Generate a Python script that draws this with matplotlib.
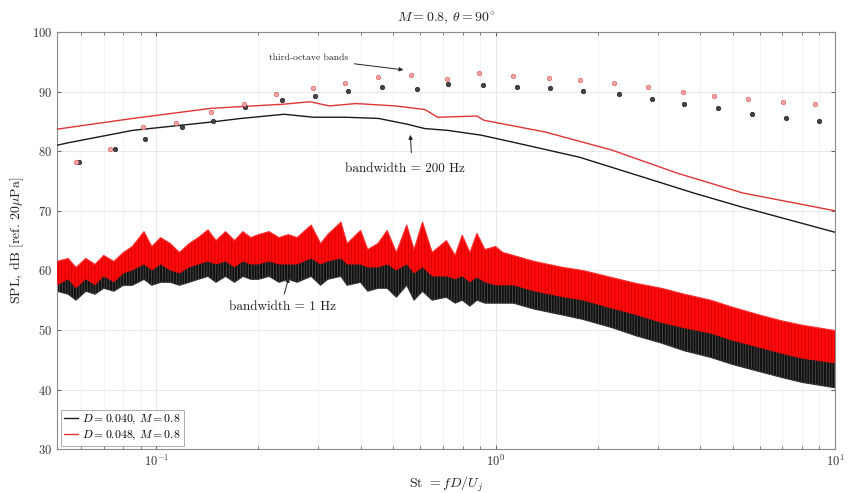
import numpy as np
import matplotlib
matplotlib.use("Agg")
import matplotlib.pyplot as plt

plt.rcParams['font.family'] = 'serif'
plt.rcParams['font.serif'] = ['cmr10', 'DejaVu Serif']
plt.rcParams['mathtext.fontset'] = 'cm'
plt.rcParams['axes.formatter.use_mathtext'] = True
plt.rcParams['hatch.linewidth'] = 0.5

# third-octave band levels
to_st_040 = [0.0593, 0.0753, 0.0929, 0.1190, 0.1473, 0.1824, 0.2350, 0.2929, 0.3674,
             0.4611, 0.5862, 0.7259, 0.9169, 1.158, 1.443, 1.811, 2.303, 2.890,
             3.602, 4.520, 5.708, 7.162, 8.988]
to_spl_040 = [78.2, 80.3, 82.0, 84.0, 85.0, 87.4, 88.6, 89.2, 90.1, 90.8, 90.4, 91.3,
              91.1, 90.8, 90.6, 90.1, 89.6, 88.7, 87.9, 87.2, 86.2, 85.5, 85.0]
to_st_048 = [0.0578, 0.0731, 0.0911, 0.1143, 0.1453, 0.1811, 0.2258, 0.2890, 0.3601,
             0.4490, 0.5632, 0.7211, 0.8928, 1.128, 1.434, 1.775, 2.227, 2.813,
             3.554, 4.401, 5.558, 7.020, 8.751]
to_spl_048 = [78.2, 80.3, 84.0, 84.7, 86.5, 87.9, 89.6, 90.6, 91.4, 92.4, 92.8, 92.1,
              93.1, 92.6, 92.3, 91.9, 91.4, 90.8, 89.9, 89.2, 88.7, 88.3, 88.0]

# 200 Hz bandwidth spectra
bw200_st_040 = [0.051, 0.0548, 0.0852, 0.1453, 0.1776, 0.238, 0.2909, 0.3625, 0.4518,
                0.552, 0.5785, 0.6184, 0.7211, 0.905, 1.128, 1.764, 2.739, 3.825, 5.34, 10.0]
bw200_spl_040 = [81.0, 81.4, 83.5, 84.9, 85.5, 86.2, 85.7, 85.7, 85.5, 84.5, 84.2, 83.8,
                 83.5, 82.7, 81.5, 79.0, 75.6, 73.0, 70.6, 66.4]
bw200_st_048 = [0.051, 0.0852, 0.1453, 0.238, 0.2833, 0.3237, 0.3877, 0.5063, 0.6184,
                0.6745, 0.881, 0.923, 1.405, 2.198, 3.438, 5.34, 10.0]
bw200_spl_048 = [83.7, 85.5, 87.2, 87.9, 88.3, 87.6, 88.0, 87.6, 87.0, 85.7, 85.9, 85.2,
                 83.2, 80.2, 76.3, 73.0, 70.0]

# 1 Hz bandwidth spectra, upper / lower extent of the narrowband trace
bw1_st = [0.051, 0.055, 0.058, 0.062, 0.066, 0.070, 0.075, 0.080, 0.085, 0.092, 0.097,
          0.103, 0.110, 0.117, 0.125, 0.133, 0.142, 0.150, 0.160, 0.170, 0.180, 0.190,
          0.200, 0.215, 0.230, 0.245, 0.260, 0.286, 0.305, 0.320, 0.350, 0.365, 0.400,
          0.420, 0.450, 0.479, 0.510, 0.547, 0.575, 0.609, 0.650, 0.716, 0.760, 0.797,
          0.840, 0.881, 0.930, 1.00, 1.05, 1.128, 1.3, 1.577, 1.8, 2.2, 2.6, 3.08, 3.6,
          4.3, 5.0, 6.0, 7.0, 8.0, 10.0]
bw1_hi_048 = [61.5, 62.0, 60.5, 62.0, 61.0, 62.5, 61.5, 63.0, 64.0, 66.5, 64.0,
              65.5, 64.5, 63.0, 64.5, 65.5, 66.8, 65.0, 66.5, 65.0, 66.5, 65.5,
              66.0, 66.5, 65.5, 66.0, 65.5, 67.6, 64.5, 66.0, 68.1, 64.5, 66.7,
              63.5, 64.5, 66.7, 63.0, 67.6, 63.5, 68.1, 63.0, 65.0, 62.5, 65.9,
              63.0, 66.2, 63.5, 64.0, 63.0, 62.5, 61.5, 60.5, 60.0, 58.8, 57.8, 57.0, 56.0,
              55.0, 53.8, 52.5, 51.5, 50.8, 49.9]
bw1_lo_048 = [57.5, 58.5, 57.0, 58.5, 57.5, 59.0, 58.0, 59.5, 60.0, 61.0, 60.0,
              61.0, 60.0, 59.5, 60.5, 61.0, 61.5, 61.0, 61.5, 60.5, 61.5, 61.0,
              61.0, 61.5, 61.0, 61.0, 61.0, 62.0, 61.0, 61.5, 62.0, 61.0, 61.0,
              60.5, 60.5, 61.0, 60.0, 61.0, 59.5, 60.5, 59.0, 59.0, 58.5, 59.0,
              58.0, 58.8, 58.0, 57.5, 57.5, 57.5, 56.5, 55.5, 55.0, 53.6, 52.5, 51.2, 50.3,
              49.4, 48.2, 47.0, 46.0, 45.2, 44.4]
bw1_hi_040 = [59.5, 60.0, 58.5, 60.0, 59.5, 60.5, 59.5, 61.0, 61.5, 63.0, 61.5,
              62.5, 62.0, 61.0, 62.0, 63.0, 63.5, 62.5, 63.5, 62.5, 63.5, 62.5,
              63.0, 63.5, 63.0, 63.5, 63.0, 65.0, 62.0, 63.5, 65.0, 62.0, 64.0,
              61.0, 62.0, 64.0, 60.5, 64.5, 60.5, 65.0, 60.0, 62.5, 60.0, 63.0,
              60.0, 63.0, 60.5, 61.0, 60.0, 59.5, 58.5, 57.5, 57.0, 55.5, 54.5, 53.5, 52.5,
              51.5, 50.5, 49.0, 48.0, 47.0, 46.0]
bw1_lo_040 = [56.5, 56.0, 55.0, 56.5, 56.0, 57.0, 56.5, 57.5, 57.5, 58.5, 57.5,
              58.0, 58.0, 57.5, 58.0, 58.5, 59.0, 58.0, 59.0, 58.0, 59.0, 58.5,
              58.5, 59.0, 58.0, 58.5, 58.0, 59.0, 57.5, 58.5, 59.0, 57.5, 58.0,
              56.5, 57.0, 57.0, 55.5, 57.5, 55.0, 56.5, 55.0, 55.5, 54.5, 55.0,
              54.0, 55.0, 54.5, 54.5, 54.5, 54.5, 53.5, 52.5, 51.8, 50.4, 49.0, 47.8, 46.5,
              45.4, 44.2, 43.0, 42.0, 41.2, 40.3]

fig = plt.figure(figsize=(8.52, 4.93), dpi=100)
ax = fig.add_axes([0.067, 0.089, 0.913, 0.846])

# narrowband traces, streaked so they read as dense spectra
ax.fill_between(bw1_st, bw1_lo_040, bw1_hi_040, facecolor='#111111', edgecolor='#555555',
                hatch='||||||', lw=0.0, zorder=2)
ax.fill_between(bw1_st, bw1_lo_048, bw1_hi_048, facecolor='#ff0a0a', edgecolor='#c80000',
                hatch='|||||', lw=0.0, zorder=3)
ax.plot(bw1_st, bw1_hi_048, color='#ff3030', lw=0.8, zorder=3)
ax.plot(bw1_st, bw1_lo_040, color='#333333', lw=0.8, zorder=2)

# 200 Hz bands
ax.plot(bw200_st_040, bw200_spl_040, color='#1a1a1a', lw=1.0, zorder=4,
        label=r'$D = 0.040$, $M = 0.8$')
ax.plot(bw200_st_048, bw200_spl_048, color='#e03535', lw=1.0, zorder=4,
        label=r'$D = 0.048$, $M = 0.8$')

# third-octave markers
ax.plot(to_st_040, to_spl_040, 'o', ms=3.2, mfc='#444444', mec='#222222', mew=0.5, zorder=5)
ax.plot(to_st_048, to_spl_048, 'o', ms=3.2, mfc='#f4a8a8', mec='#e06060', mew=0.5, zorder=5)

ax.set_xscale('log')
ax.set_xlim(0.051, 10)
ax.set_ylim(30, 100)
ax.set_yticks(np.arange(30, 101, 10))
ax.grid(True, which='major', color='#e4e4e4', lw=0.6)
ax.grid(True, which='minor', color='#efefef', lw=0.5)
ax.set_axisbelow(True)
ax.tick_params(which='both', direction='in', top=True, right=True, colors='#666666',
               labelcolor='#333333', labelsize=9)
ax.tick_params(which='major', length=3)
ax.tick_params(which='minor', length=2)
for sp in ax.spines.values():
    sp.set_edgecolor('#8a8a8a')

ax.set_title(r'$M = 0.8$, $\theta = 90^{\circ}$', fontsize=10, color='#222222', pad=8)
ax.set_xlabel(r'St $= fD/U_j$', fontsize=10, color='#222222', labelpad=4)
ax.set_ylabel(r'SPL, dB [ref. 20$\mu$Pa]', fontsize=10, color='#222222', labelpad=4)

arrow = dict(arrowstyle='-|>', color='#222222', lw=0.7, mutation_scale=6)
ax.annotate('third-octave bands', xy=(0.545, 93.6), xytext=(0.282, 95.6),
            fontsize=7, ha='center', va='center', color='#222222', arrowprops=arrow)
ax.annotate('', xy=(0.56, 83.2), xytext=(0.565, 79.3), arrowprops=arrow)
ax.text(0.54, 77.1, 'bandwidth = 200 Hz', fontsize=9.5, ha='center', va='center',
        color='#222222')
ax.annotate('', xy=(0.247, 59.2), xytext=(0.237, 55.6), arrowprops=arrow)
ax.text(0.235, 53.8, 'bandwidth = 1 Hz', fontsize=9.5, ha='center', va='center',
        color='#222222')

leg = ax.legend(loc='lower left', fontsize=8.5, frameon=True, fancybox=False,
                borderpad=0.3, handlelength=1.2, handletextpad=0.3, labelspacing=0.2,
                borderaxespad=0.3)
leg.get_frame().set_edgecolor('#999999')
leg.get_frame().set_linewidth(0.7)

fig.savefig('out.png', dpi=100)
